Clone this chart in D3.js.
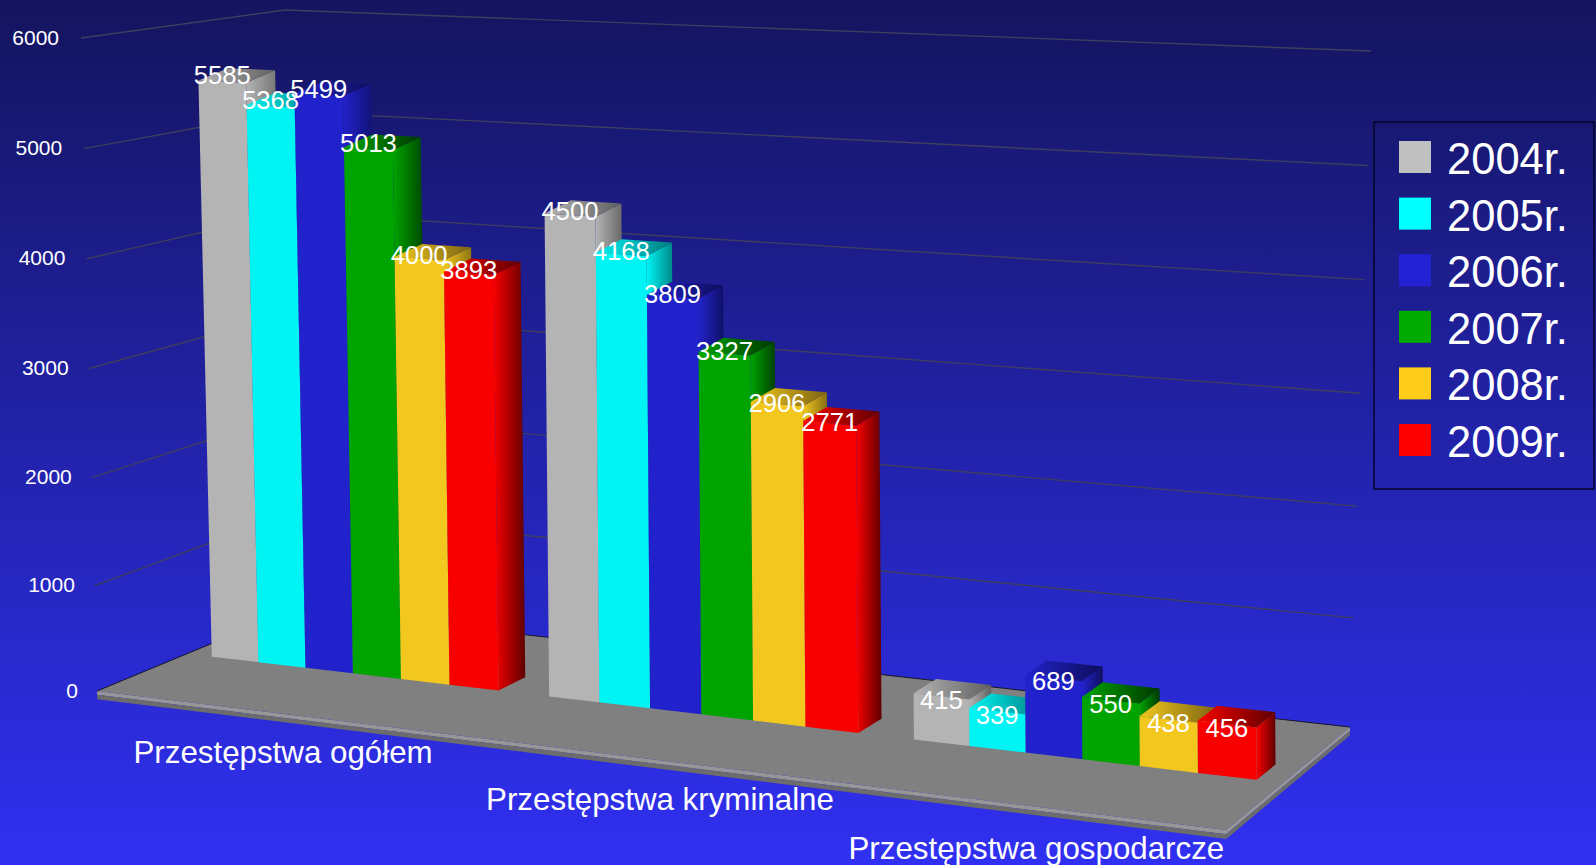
<!DOCTYPE html>
<html>
<head>
<meta charset="utf-8">
<script src="https://cdn.jsdelivr.net/npm/d3@7"></script>
<style>
  html, body { margin: 0; padding: 0; background: #14145f; overflow: hidden; }
  text { font-family: "Liberation Sans", Arial, sans-serif; fill: #fff; }
</style>
</head>
<body>
<svg width="1596" height="865"></svg>
<script>
var categories = ["Przestępstwa ogółem", "Przestępstwa kryminalne", "Przestępstwa gospodarcze"];
var years = ["2004r.", "2005r.", "2006r.", "2007r.", "2008r.", "2009r."];
var values2004 = [5585, 4500, 415];
var values2005 = [5368, 4168, 339];
var values2006 = [5499, 3809, 689];
var values2007 = [5013, 3327, 550];
var values2008 = [4000, 2906, 438];
var values2009 = [3893, 2771, 456];
var yTicks = [0, 1000, 2000, 3000, 4000, 5000, 6000];

var series = [values2004, values2005, values2006, values2007, values2008, values2009];

// front colour, shaded colour of the side, colour of the legend square
var frontColors = ["#b4b4b4", "#00f4f4", "#2222cc", "#00a400", "#f2c81f", "#f80000"];
var shadeColors = ["#606060", "#007c7c", "#0e0e5c", "#003800", "#7c6410", "#600000"];
var legendColors = ["#c0c0c0", "#00ffff", "#2222d4", "#00aa00", "#ffcc19", "#ff0000"];

var width = 1596;
var height = 865;

// corners of the chart box on screen: left front, right front, right back, left back
var floorCorners = [[97, 691], [1226, 830], [1350, 727], [295, 609]];
var topCorners = [[81, 38], [1200, 118], [1371, 51], [285, 10]];

// square to quad mapping, gives the perspective of the floor and of the top plane
function makeHomography(q) {
    var sx = q[0][0] - q[1][0] + q[2][0] - q[3][0];
    var sy = q[0][1] - q[1][1] + q[2][1] - q[3][1];
    var dx1 = q[1][0] - q[2][0], dx2 = q[3][0] - q[2][0];
    var dy1 = q[1][1] - q[2][1], dy2 = q[3][1] - q[2][1];
    var det = dx1 * dy2 - dx2 * dy1;
    var g = (sx * dy2 - dx2 * sy) / det;
    var h = (dx1 * sy - sx * dy1) / det;
    var a = q[1][0] - q[0][0] + g * q[1][0];
    var b = q[3][0] - q[0][0] + h * q[3][0];
    var d = q[1][1] - q[0][1] + g * q[1][1];
    var e = q[3][1] - q[0][1] + h * q[3][1];
    return function(u, w) {
        var z = g * u + h * w + 1;
        return [(a * u + b * w + q[0][0]) / z, (d * u + e * w + q[0][1]) / z];
    };
}
var floorMap = makeHomography(floorCorners);
var topMap = makeHomography(topCorners);

// the walls stretch a little towards the top, the bars do not
var wallScale = d3.scalePow().exponent(1.018).domain([0, 6000]).range([0, 1]);
var yScale = d3.scaleLinear().domain([0, 6000]).range([0, 1]);
var xScale = d3.scaleBand().domain(d3.range(categories.length)).range([0, 1])
            .paddingInner(0.14).paddingOuter(0.08);
var barScale = d3.scaleBand().domain(d3.range(years.length)).range([0, xScale.bandwidth()]);
var frontDepth = 0.435;
var backDepth = 0.585;

// the clusters are not quite evenly spread on the floor, the last one is wider
var floorWarp = d3.scaleLinear()
    .domain([0.0265, 0.311, 0.3576, 0.6423, 0.6887, 0.9733])
    .range([0.0252, 0.3071, 0.3555, 0.6386, 0.6877, 0.9785]);

// bars are taller and stand straighter to the right
var barHeight = d3.scaleLinear().domain([0, 1]).range([617, 692]);
var barLean = d3.scaleLinear().domain([0, 0.4, 1]).range([-15, -5, -4]);

// u along the categories, w front to back, v the value
function project(u, w, v) {
    var t = v < 0 ? yScale(v) : wallScale(v);
    var p0 = floorMap(u, w);
    var p1 = topMap(u, w);
    return [p0[0] + (p1[0] - p0[0]) * t, p0[1] + (p1[1] - p0[1]) * t];
}
function barPoint(u, w, v) {
    var p = floorMap(floorWarp(u), w);
    var t = yScale(v);
    return [p[0] + barLean(u) * t, p[1] - barHeight(u) * t];
}

var svg = d3.select("svg");
var polygon = d3.line().curve(d3.curveLinearClosed);
var defs = svg.append("defs");

var bg = defs.append("linearGradient").attr("id", "bg")
    .attr("x1", 0).attr("y1", 0).attr("x2", 0).attr("y2", 1);
bg.append("stop").attr("offset", "0%").attr("stop-color", "#14145f");
bg.append("stop").attr("offset", "100%").attr("stop-color", "#3030f2");

frontColors.forEach(function(c, i) {
    var grad = defs.append("linearGradient").attr("id", "shade" + i)
        .attr("x1", 0).attr("y1", 0).attr("x2", 1).attr("y2", 0);
    grad.append("stop").attr("offset", "0%").attr("stop-color", c);
    grad.append("stop").attr("offset", "100%").attr("stop-color", shadeColors[i]);
});

svg.append("rect")
    .attr("width", width)
    .attr("height", height)
    .attr("fill", "url(#bg)");

// grid lines, left wall then back wall
svg.append("g")
    .selectAll("path")
    .data(yTicks.filter(d => d > 0))
    .enter()
    .append("path")
        .attr("d", d => d3.line()([project(0, 0, d), project(0, 1, d), project(1, 1, d)]))
        .attr("fill", "none")
        .attr("stroke", "#3e3e5e")
        .attr("stroke-width", 1.4);

// floor with its thin edge
var slabLow = -35, slabBottom = -75;
var edges = [
    [[0, 0], [1, 0]],
    [[1, 0], [1, 1]]
];
edges.forEach(function(e) {
    svg.append("path")
        .attr("d", polygon([project(e[0][0], e[0][1], 0), project(e[1][0], e[1][1], 0),
                            project(e[1][0], e[1][1], slabLow), project(e[0][0], e[0][1], slabLow)]))
        .attr("fill", "#969696");
    svg.append("path")
        .attr("d", polygon([project(e[0][0], e[0][1], slabLow), project(e[1][0], e[1][1], slabLow),
                            project(e[1][0], e[1][1], slabBottom), project(e[0][0], e[0][1], slabBottom)]))
        .attr("fill", "#6c6c6c");
});
svg.append("path")
    .attr("d", polygon([project(0, 0, 0), project(1, 0, 0), project(1, 1, 0), project(0, 1, 0)]))
    .attr("fill", "#808080");
svg.append("path")
    .attr("d", d3.line()([project(0, 0, 0), project(0, 1, 0), project(1, 1, 0)]))
    .attr("fill", "none")
    .attr("stroke", "#15152a")
    .attr("stroke-width", 1);

// bars, left to right so the next bar covers the side of the one before
var labels = [];
categories.forEach(function(cat, c) {
    var g = svg.append("g").attr("class", "cluster");
    series.forEach(function(vals, s) {
        var v = vals[c];
        var u0 = xScale(c) + barScale(s);
        var u1 = u0 + barScale.bandwidth();
        g.append("path") // side
            .attr("d", polygon([barPoint(u1, frontDepth, 0), barPoint(u1, backDepth, 0),
                                barPoint(u1, backDepth, v), barPoint(u1, frontDepth, v)]))
            .attr("fill", "url(#shade" + s + ")");
        g.append("path") // top
            .attr("d", polygon([barPoint(u0, frontDepth, v), barPoint(u1, frontDepth, v),
                                barPoint(u1, backDepth, v), barPoint(u0, backDepth, v)]))
            .attr("fill", "url(#shade" + s + ")");
        g.append("path") // front
            .attr("d", polygon([barPoint(u0, frontDepth, 0), barPoint(u1, frontDepth, 0),
                                barPoint(u1, frontDepth, v), barPoint(u0, frontDepth, v)]))
            .attr("fill", frontColors[s]);
        labels.push({ value: v, pos: barPoint((u0 + u1) / 2, frontDepth, v) });
    });
});

// value labels
svg.append("g")
    .selectAll("text")
    .data(labels)
    .enter()
    .append("text")
        .attr("x", d => d.pos[0])
        .attr("y", d => d.pos[1] + 13.5 - 0.002 * d.value)
        .style("text-anchor", "middle")
        .style("font-size", "25.6px")
        .text(d => d.value);

// y axis labels
svg.append("g")
    .selectAll("text")
    .data(yTicks)
    .enter()
    .append("text")
        .attr("x", d => project(0, 0, d)[0] - 19 - d / 2000)
        .attr("y", d => project(0, 0, d)[1] + 6.5)
        .style("text-anchor", "end")
        .style("font-size", "21px")
        .text(d => d);

// category labels under the front edge
var labelNudgeX = [13, 31, 20];
var labelNudgeY = [51, 54, 55];
svg.append("g")
    .selectAll("text")
    .data(categories)
    .enter()
    .append("text")
        .attr("x", (d, i) => project(xScale(i) + xScale.bandwidth() / 2, 0, 0)[0] + labelNudgeX[i])
        .attr("y", (d, i) => project(xScale(i) + xScale.bandwidth() / 2, 0, 0)[1] + labelNudgeY[i])
        .style("text-anchor", "middle")
        .style("font-size", "31.3px")
        .text(d => d);

// legend
var legend = svg.append("g").attr("transform", "translate(1374,122)");
legend.append("rect")
    .attr("width", 220)
    .attr("height", 367)
    .attr("fill", "none")
    .attr("stroke", "#05052a")
    .attr("stroke-width", 1.5);
var rows = legend.selectAll("g.row")
    .data(years)
    .enter()
    .append("g")
        .attr("class", "row")
        .attr("transform", (d, i) => "translate(0," + (i * 56.6) + ")");
rows.append("rect")
    .attr("x", 25)
    .attr("y", 19)
    .attr("width", 32)
    .attr("height", 32)
    .attr("fill", (d, i) => legendColors[i]);
rows.append("text")
    .attr("x", 73)
    .attr("y", 52)
    .style("font-size", "43.5px")
    .text(d => d);
</script>
</body>
</html>
